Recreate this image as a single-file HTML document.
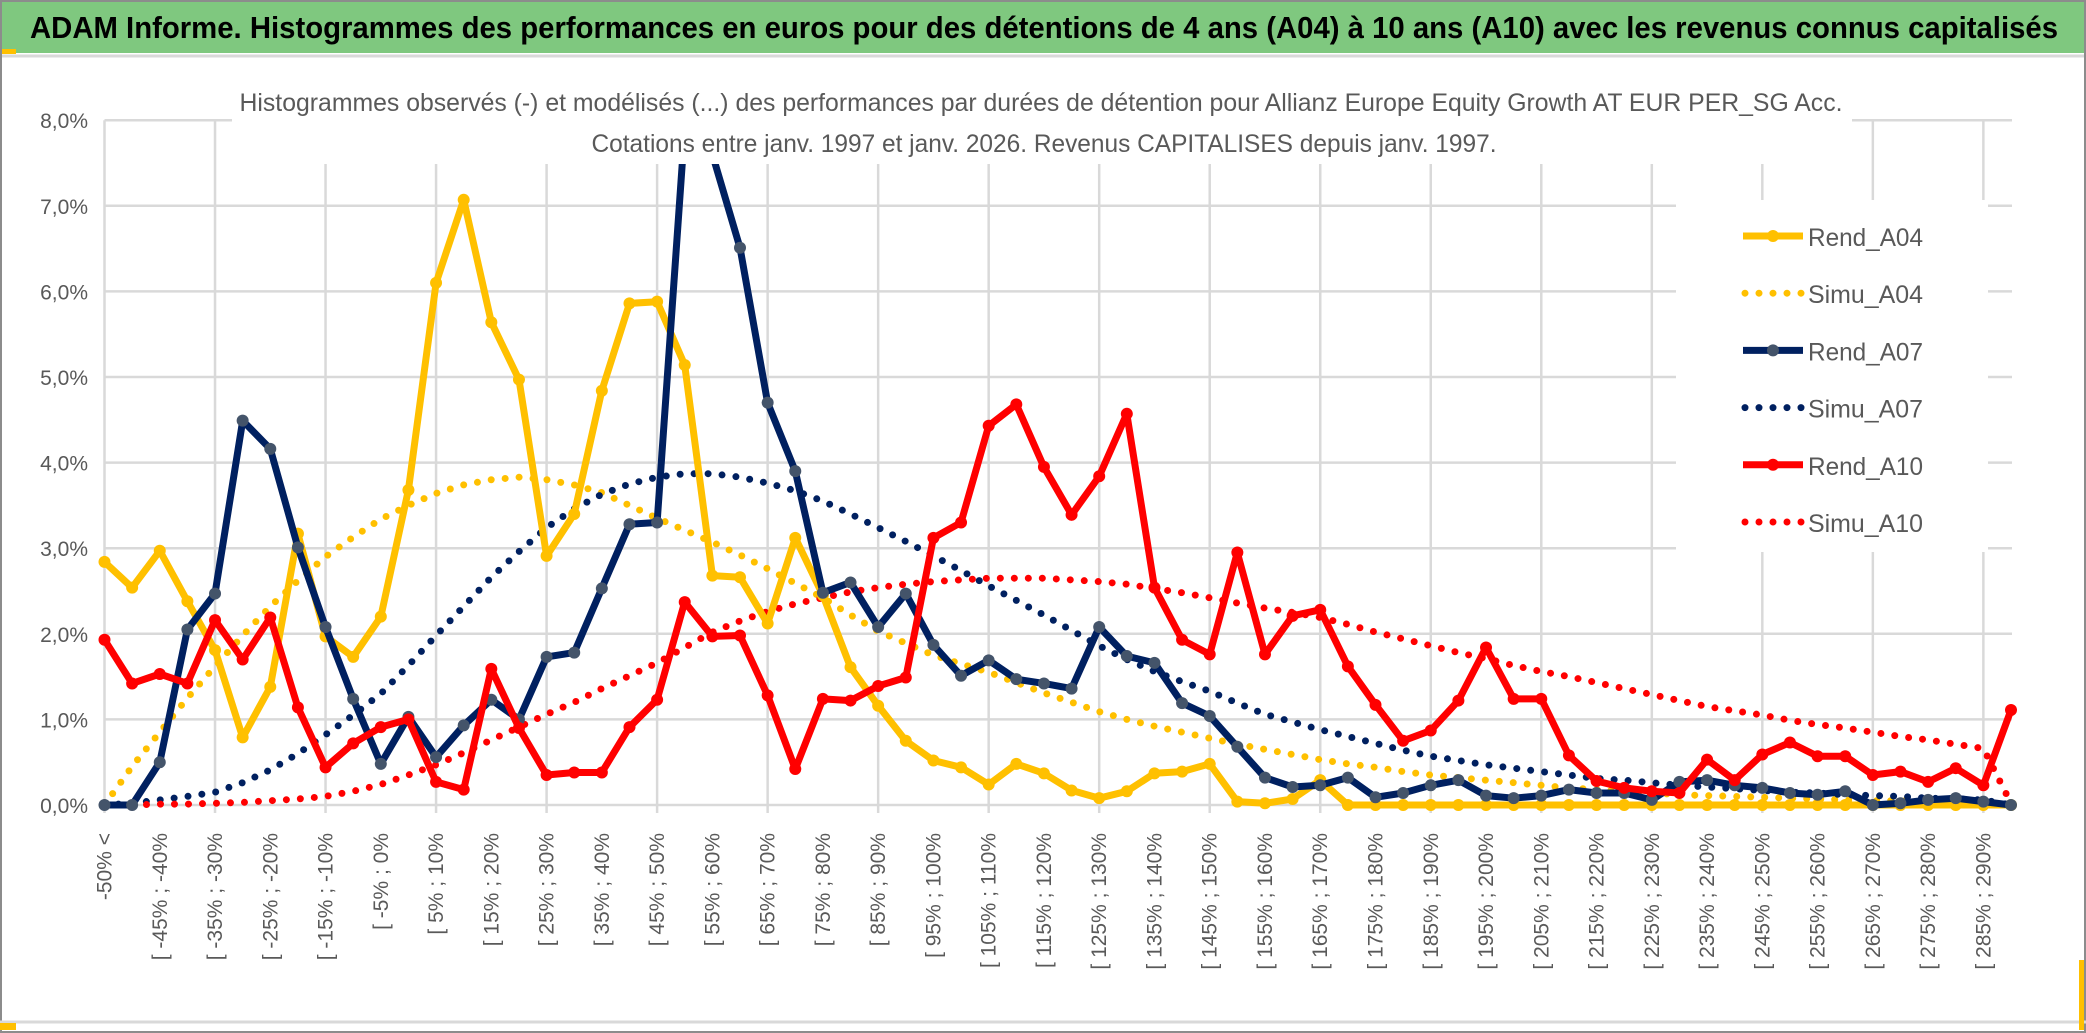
<!DOCTYPE html>
<html><head><meta charset="utf-8"><style>
html,body{margin:0;padding:0;background:#fff}
svg{display:block}
text{font-family:"Liberation Sans",sans-serif}
</style></head><body>
<svg id="chart" width="2086" height="1033" viewBox="0 0 2086 1033" xmlns="http://www.w3.org/2000/svg">
<rect x="0" y="0" width="2086" height="1033" fill="#fff"/>
<rect x="0" y="0" width="2086" height="53" fill="#7FC87F"/>
<text x="30" y="38" font-size="31" font-weight="bold" fill="#000" textLength="2028" lengthAdjust="spacingAndGlyphs">ADAM Informe. Histogrammes des performances en euros pour des détentions de 4 ans (A04) à 10 ans (A10) avec les revenus connus capitalisés</text>
<rect x="0" y="49" width="16" height="5" fill="#FFC000"/>
<line x1="0" y1="56" x2="2086" y2="56" stroke="#d9d9d9" stroke-width="3"/>
<g id="grid"></g>
<g id="yticks"></g>
<g id="xlabels"></g>
<g id="series"></g>
<g>
<rect x="232" y="84" width="1620" height="80" fill="#fff"/>
<text x="1041" y="111" font-size="25" fill="#595959" text-anchor="middle" textLength="1603" lengthAdjust="spacingAndGlyphs">Histogrammes observés (-) et modélisés (...) des performances par durées de détention pour Allianz Europe Equity Growth AT EUR PER_SG Acc.</text>
<text x="1044" y="152" font-size="25" fill="#595959" text-anchor="middle" textLength="905" lengthAdjust="spacingAndGlyphs">Cotations entre janv. 1997 et janv. 2026. Revenus CAPITALISES depuis janv. 1997.</text>
</g>
<g id="legend"></g>
<rect x="1" y="1" width="2084" height="1031" fill="none" stroke="#8c8c8c" stroke-width="2"/>
<line x1="0" y1="1022" x2="2086" y2="1022" stroke="#d9d9d9" stroke-width="3"/>
<rect x="0" y="1023" width="16" height="7" fill="#FFC000"/>
<rect x="2079" y="960" width="5" height="70" fill="#FFC000"/>
</svg>
<script>
const rendA04 = [2.84,2.54,2.97,2.38,1.81,0.79,1.38,3.17,1.97,1.73,2.2,3.68,6.1,7.07,5.64,4.97,2.91,3.4,4.84,5.86,5.88,5.14,2.68,2.66,2.12,3.12,2.45,1.61,1.16,0.75,0.52,0.44,0.24,0.48,0.37,0.17,0.08,0.16,0.37,0.39,0.48,0.04,0.02,0.07,0.29,0,0,0,0,0,0,0,0,0,0,0,0,0,0,0,0,0,0,0,0,0,0,0,0,0];
const rendA07 = [0,0,0.5,2.05,2.47,4.49,4.16,3.01,2.08,1.24,0.48,1.03,0.56,0.93,1.23,1.0,1.73,1.78,2.53,3.28,3.3,7.9,7.6,6.51,4.7,3.9,2.48,2.6,2.08,2.47,1.87,1.51,1.69,1.47,1.42,1.36,2.08,1.74,1.66,1.19,1.04,0.68,0.32,0.21,0.23,0.32,0.09,0.14,0.23,0.29,0.11,0.08,0.11,0.18,0.14,0.14,0.06,0.27,0.29,0.23,0.2,0.14,0.12,0.16,0,0.02,0.06,0.08,0.04,0];
const rendA10 = [1.93,1.42,1.53,1.42,2.16,1.7,2.19,1.14,0.44,0.72,0.91,1.0,0.27,0.18,1.59,0.9,0.35,0.38,0.38,0.91,1.23,2.37,1.97,1.98,1.28,0.42,1.24,1.22,1.39,1.49,3.12,3.3,4.43,4.68,3.95,3.39,3.84,4.57,2.54,1.93,1.76,2.95,1.76,2.21,2.28,1.62,1.17,0.75,0.87,1.22,1.84,1.24,1.24,0.58,0.28,0.2,0.16,0.14,0.53,0.29,0.59,0.73,0.57,0.57,0.35,0.39,0.27,0.43,0.23,1.11];
const simuA04 = [0,0.45,0.85,1.25,1.62,1.98,2.32,2.62,2.9,3.13,3.34,3.5,3.64,3.74,3.8,3.83,3.8,3.74,3.65,3.5,3.35,3.21,3.07,2.92,2.76,2.59,2.42,2.22,2.03,1.89,1.75,1.65,1.55,1.43,1.31,1.2,1.09,1.0,0.92,0.85,0.78,0.71,0.65,0.59,0.53,0.48,0.44,0.39,0.35,0.32,0.29,0.26,0.23,0.2,0.18,0.16,0.14,0.12,0.11,0.1,0.09,0.08,0.07,0.06,0.05,0.05,0.04,0.04,0.03,0];
const simuA07 = [0,0.02,0.06,0.1,0.15,0.26,0.41,0.6,0.82,1.05,1.3,1.63,1.98,2.32,2.66,2.96,3.24,3.46,3.63,3.75,3.83,3.87,3.87,3.83,3.76,3.67,3.55,3.4,3.24,3.08,2.91,2.74,2.56,2.39,2.22,2.04,1.86,1.7,1.56,1.44,1.33,1.19,1.06,0.97,0.88,0.8,0.72,0.64,0.57,0.52,0.47,0.43,0.39,0.35,0.31,0.29,0.26,0.23,0.21,0.19,0.17,0.15,0.14,0.12,0.11,0.1,0.08,0.07,0.06,0];
const simuA10 = [0,0,0.01,0.01,0.02,0.03,0.05,0.07,0.1,0.16,0.24,0.35,0.47,0.61,0.76,0.91,1.06,1.2,1.36,1.51,1.66,1.84,2.02,2.15,2.26,2.35,2.42,2.49,2.54,2.58,2.61,2.63,2.65,2.65,2.65,2.63,2.61,2.58,2.53,2.48,2.42,2.36,2.3,2.25,2.19,2.11,2.02,1.94,1.86,1.78,1.71,1.63,1.56,1.5,1.43,1.36,1.29,1.22,1.15,1.1,1.05,0.99,0.94,0.9,0.85,0.8,0.76,0.71,0.66,0.02];
const yTicks = [0,1,2,3,4,5,6,7,8];
const binStart = -50;
const binStep = 5;
const nCats = 70;

const NS = "http://www.w3.org/2000/svg";
const X0 = 104.5, DX = (2011 - 104.5) / (nCats - 1), Y0 = 805, PY = 85.6;
function xs(i){ return X0 + i * DX; }
function ys(v){ return Y0 - v * PY; }
function mk(tag, attrs, parent){ const e = document.createElementNS(NS, tag); for (const k in attrs) e.setAttribute(k, attrs[k]); parent.appendChild(e); return e; }
function catLabel(i){ if (i === 0) return "-50% <"; const a = binStart + binStep*(i-1); return "[ " + a + "% ; " + (a+binStep) + "%"; }

const grid = document.getElementById('grid');
yTicks.forEach(t => {
  const l = mk('line', {x1: X0, x2: 2012, y1: ys(t), y2: ys(t), stroke: '#d9d9d9', 'stroke-width': 2.5}, grid);
  
  
  const tx = mk('text', {x: 88, y: ys(t) + 8, 'font-size': 21, fill: '#595959', 'text-anchor': 'end'}, document.getElementById('yticks'));
  tx.textContent = t.toFixed(1).replace('.', ',') + '%';
  
  
});
for (let i = 0; i < nCats; i += 4) {
  const l = mk('line', {x1: xs(i), x2: xs(i), y1: ys(8), y2: 813, stroke: '#d9d9d9', 'stroke-width': 2.5}, grid);
  
  
}
const xl = document.getElementById('xlabels');
for (let i = 0; i < nCats - 1; i += 2) {
  const t = mk('text', {x: 0, y: 0, 'font-size': 21, fill: '#595959', 'text-anchor': 'end', transform: 'translate(' + (xs(i) + 7) + ',833) rotate(-90)'}, xl);
  t.textContent = catLabel(i);
  
  
}

const series = document.getElementById('series');
function pts(arr){ return arr.map((v, i) => xs(i).toFixed(1) + ',' + ys(v).toFixed(1)).join(' '); }
function dotted(arr, color, name){
  const p = mk('polyline', {points: pts(arr), fill: 'none', stroke: color, 'stroke-width': 7, 'stroke-linecap': 'round', 'stroke-dasharray': '0 14'}, series);
  
  
}
function solid(arr, color, mcolor, name){
  const g = mk('g', {}, series);
  
  
  mk('polyline', {points: pts(arr), fill: 'none', stroke: color, 'stroke-width': 7, 'stroke-linejoin': 'round'}, g);
  arr.forEach((v, i) => {
    const c = mk('circle', {cx: xs(i), cy: ys(v), r: 6, fill: mcolor}, g);
    
    
  });
}
dotted(simuA04, '#FFC000', 'simu-a04-line');
dotted(simuA07, '#002060', 'simu-a07-line');
dotted(simuA10, '#FF0000', 'simu-a10-line');
solid(rendA04, '#FFC000', '#FFC000', 'rend-a04-line');
solid(rendA07, '#002060', '#44546A', 'rend-a07-line');
solid(rendA10, '#FF0000', '#FF0000', 'rend-a10-line');

const legendNames = ['Rend_A04','Simu_A04','Rend_A07','Simu_A07','Rend_A10','Simu_A10'];
const legendColors = ['#FFC000','#FFC000','#002060','#002060','#FF0000','#FF0000'];
const lg = document.getElementById('legend');
mk('rect', {x: 1676, y: 200, width: 312, height: 352, fill: '#fff'}, lg);
legendNames.forEach((n, k) => {
  const yc = 236 + k * 57.2;
  const e = mk('g', {}, lg);
  
  
  if (k % 2 === 0) {
    mk('line', {x1: 1743, x2: 1803, y1: yc, y2: yc, stroke: legendColors[k], 'stroke-width': 7}, e);
    mk('circle', {cx: 1773, cy: yc, r: 6, fill: k === 2 ? '#44546A' : legendColors[k]}, e);
  } else {
    mk('line', {x1: 1745, x2: 1803, y1: yc, y2: yc, stroke: legendColors[k], 'stroke-width': 7, 'stroke-linecap': 'round', 'stroke-dasharray': '0 14'}, e);
  }
  const t = mk('text', {x: 1808, y: yc + 10, 'font-size': 25, fill: '#595959', textLength: 115, lengthAdjust: 'spacingAndGlyphs'}, e);
  t.textContent = n;
});
</script>
</body></html>
